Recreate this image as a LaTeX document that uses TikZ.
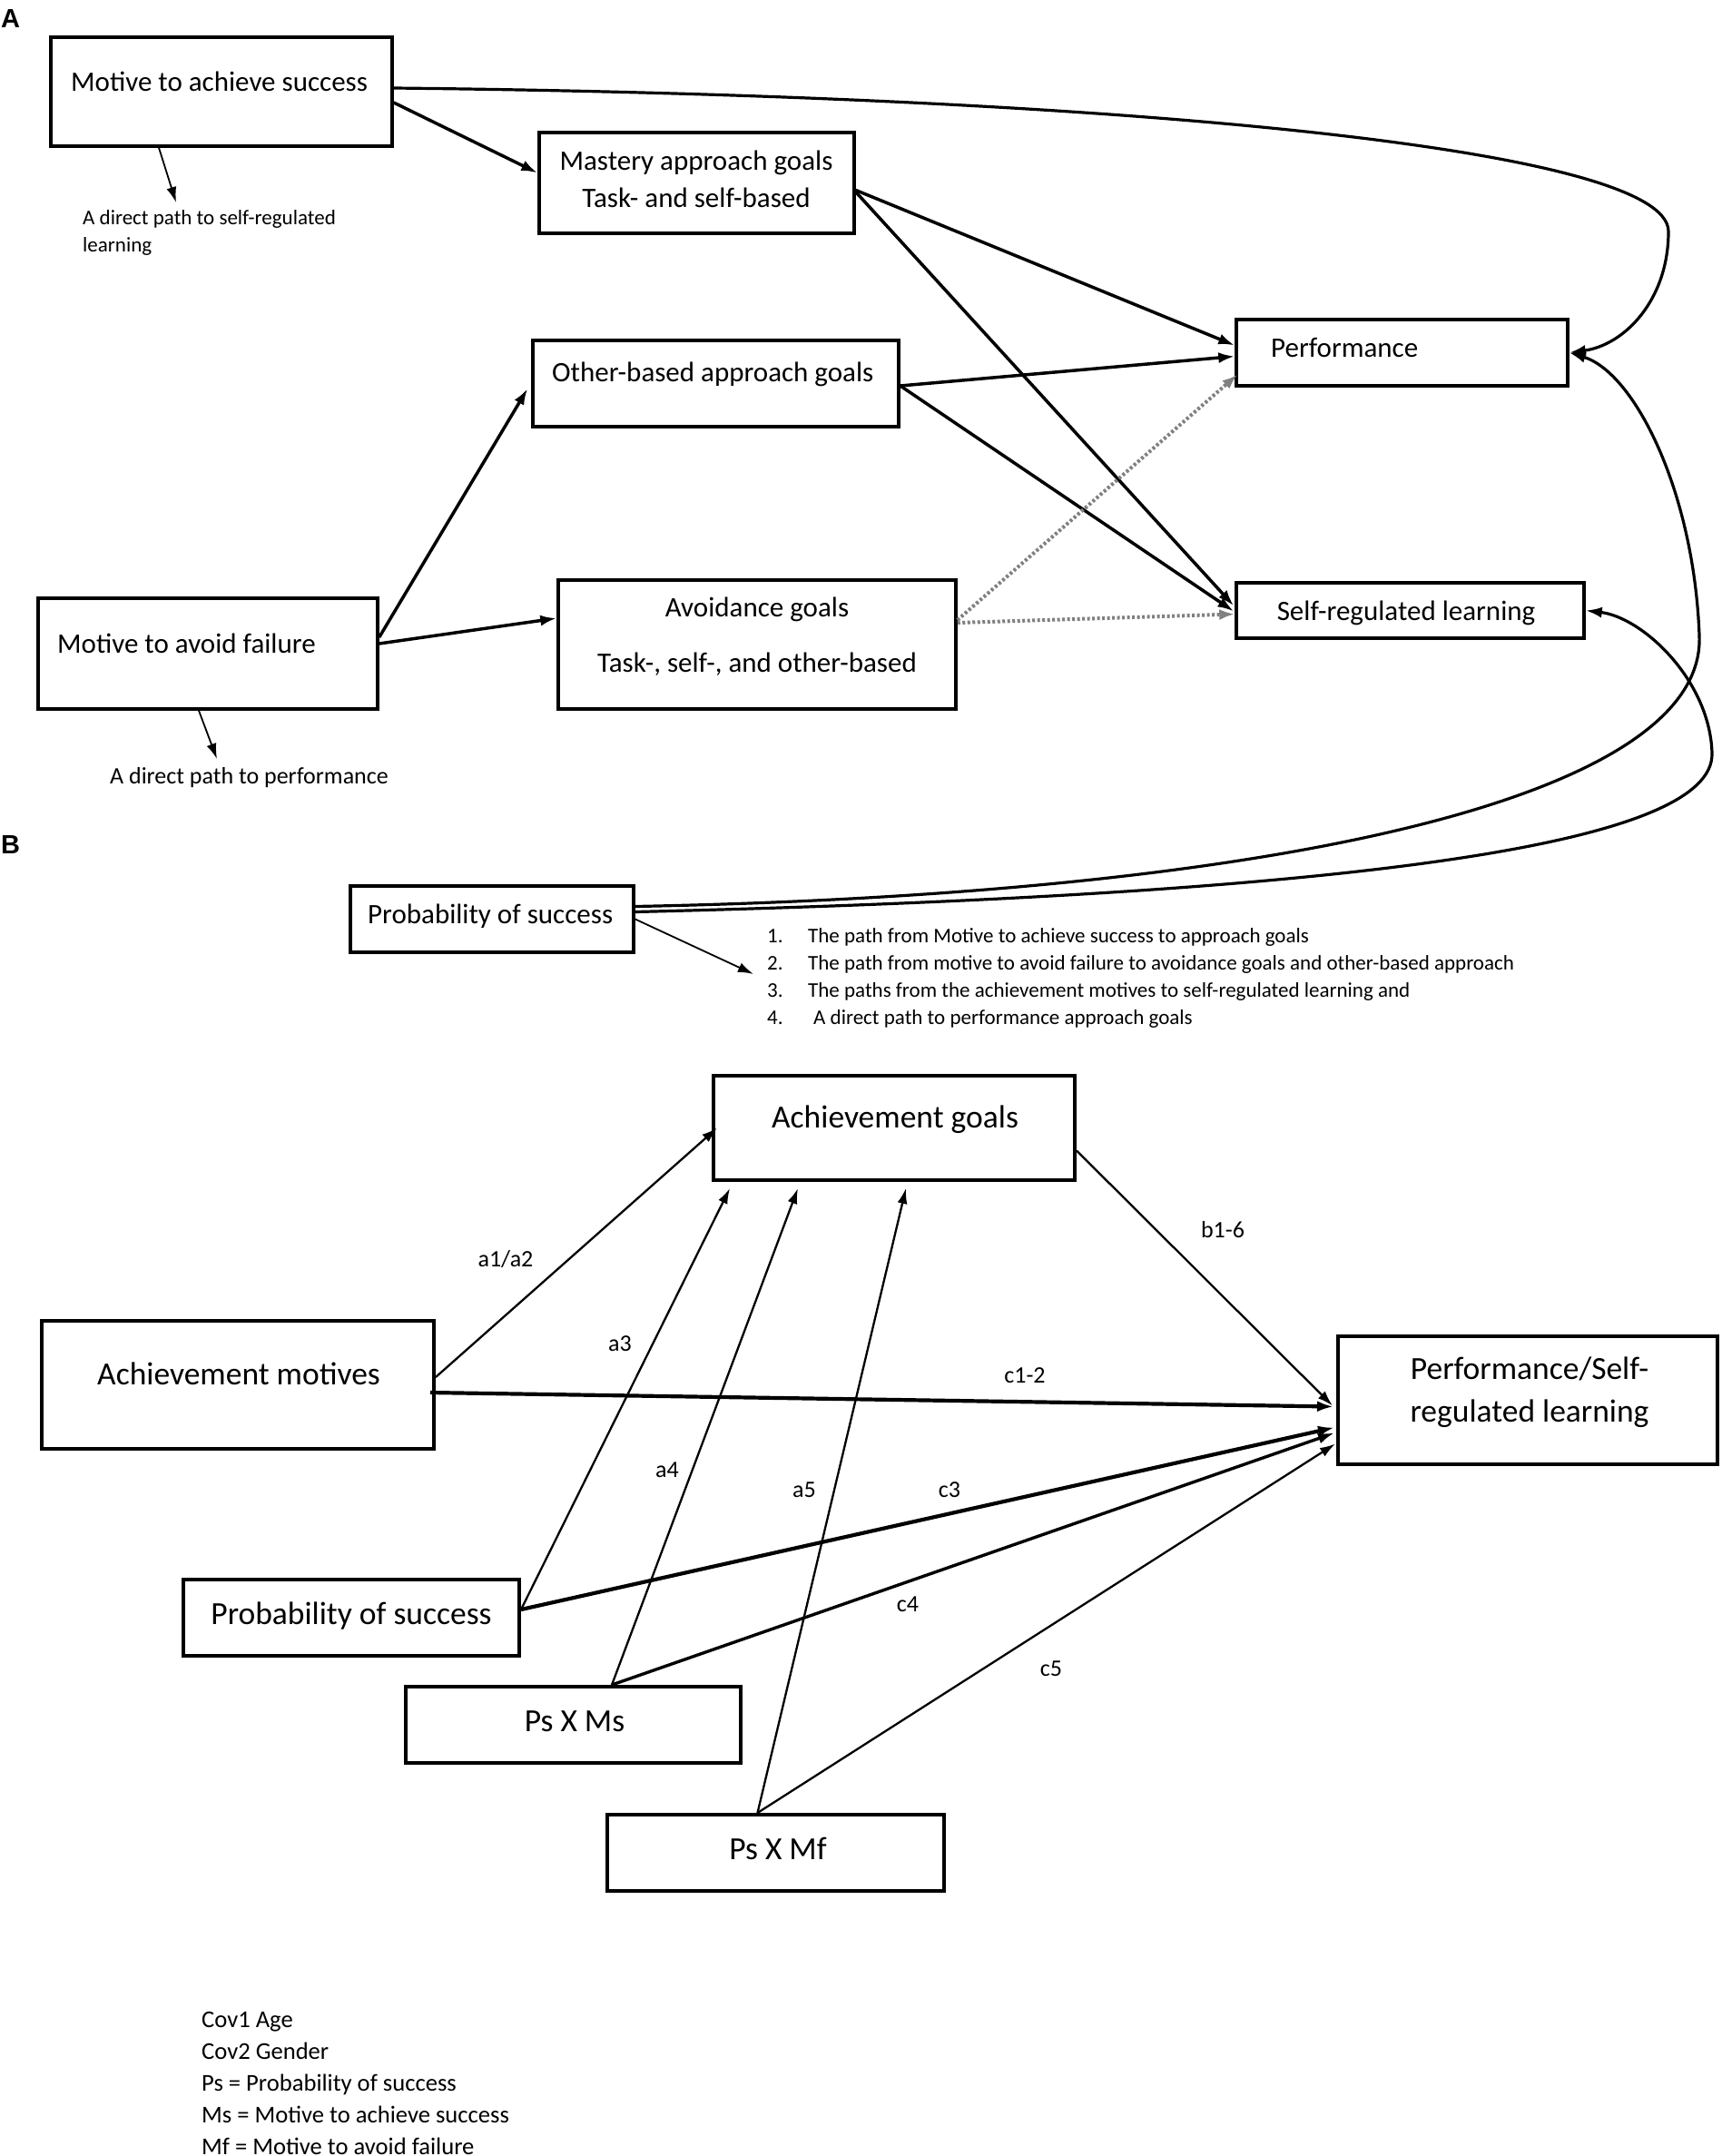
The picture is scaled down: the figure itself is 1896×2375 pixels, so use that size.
\documentclass[tikz,border=0pt]{standalone}
\usepackage{fontspec}
\setmainfont{Carlito}
\newfontfamily\labfont{Liberation Sans}
\usetikzlibrary{arrows.meta,calc}
\begin{document}
\begin{tikzpicture}[x=1pt,y=-1pt,
  box/.style 2 args={draw,line width=3.5pt,minimum width=#1,minimum height=#2,inner sep=0pt},
  boxb/.style 2 args={draw,line width=4pt,minimum width=#1,minimum height=#2,inner sep=0pt},
  ta/.style={font=\fontsize{31}{37}\selectfont,inner sep=0pt},
  tb/.style={font=\fontsize{35.5}{42}\selectfont,inner sep=0pt},
  tsm/.style={font=\fontsize{23}{28}\selectfont,inner sep=0pt,anchor=base west},
  tmd/.style={font=\fontsize{26}{31}\selectfont,inner sep=0pt,anchor=base west},
  lab/.style={font=\fontsize{26}{31}\selectfont,inner sep=0pt},
  leg/.style={font=\fontsize{26.6}{32}\selectfont,inner sep=0pt,anchor=base west},
  sec/.style={font=\labfont\bfseries\fontsize{29}{34}\selectfont,inner sep=0pt,anchor=base west},
  arr/.style={line width=3.5pt,-{Latex[length=18pt,width=12pt]}},
  carr/.style={line width=3.2pt,-{Latex[length=18pt,width=12pt]}},
  thinarr/.style={line width=1.8pt,-{Latex[length=17pt,width=11pt]}},
  dotarr/.style={line width=4pt,draw=black!50,dash pattern=on 3pt off 2.5pt,-{Latex[length=17pt,width=12pt]}},
  barr/.style={line width=2.3pt,-{Latex[length=17pt,width=11pt]}}
]
\useasboundingbox (0,0) rectangle (1896,2375);

% ---------------- Section A ----------------
\node[sec] (la) at (1,30) {A};

\node[box={376pt}{120pt}] (mas) at (244,101) {};
\node[ta,anchor=base west] (tmas) at (78,100) {Motive to achieve success};

\node[box={347pt}{111pt}] (mast) at (767.5,201.5) {};
\node[ta,anchor=base] (tmast1) at (767,187) {Mastery approach goals};
\node[ta,anchor=base] (tmast2) at (767,228) {Task- and self-based};

\node[box={365pt}{73pt}] (perf) at (1544.5,388.5) {};
\node[ta,anchor=base west] (tperf) at (1400,393) {Performance};

\node[box={403pt}{95pt}] (other) at (788.5,422.5) {};
\node[ta,anchor=base west] (tother) at (608,420) {Other-based approach goals};

\node[box={374pt}{122pt}] (maf) at (229,720) {};
\node[ta,anchor=base west] (tmaf) at (63,719) {Motive to avoid failure};

\node[box={438pt}{142pt}] (avoid) at (834,710) {};
\node[ta,anchor=base] (tav1) at (834,679) {Avoidance goals};
\node[ta,anchor=base] (tav2) at (834,740) {Task-, self-, and other-based};

\node[box={383pt}{61pt}] (srl) at (1553.5,672.5) {};
\node[ta,anchor=base] (tsrl) at (1549,683) {Self-regulated learning};

\node[box={312pt}{73pt}] (proba) at (542,1012.5) {};
\node[ta,anchor=base west] (tproba) at (405,1017) {Probability of success};

% annotations
\node[tsm] (ann1a) at (91,247) {A direct path to self-regulated};
\node[tsm] (ann1b) at (91,277) {learning};
\coordinate (ann1tip) at (194,223);
\draw[thinarr] ([xshift=-69pt]mas.south) -- (ann1tip);

\node[tmd] (ann2) at (121,863) {A direct path to performance};
\coordinate (ann2tip) at (239,836);
\draw[thinarr] ([xshift=-10pt]maf.south) -- (ann2tip);

\node[tsm] (n1) at (845,1038) {1.};
\node[tsm] (l1) at (890,1038) {The path from Motive to achieve success to approach goals};
\node[tsm] (n2) at (845,1068) {2.};
\node[tsm] (l2) at (890,1068) {The path from motive to avoid failure to avoidance goals and other-based approach};
\node[tsm] (n3) at (845,1098) {3.};
\node[tsm] (l3) at (890,1098) {The paths from the achievement motives to self-regulated learning and};
\node[tsm] (n4) at (845,1128) {4.};
\node[tsm] (l4) at (896,1128) {A direct path to performance approach goals};
\coordinate (listtip) at (830,1073);
\draw[thinarr] (proba.east) -- (listtip);

% connectors A
\draw[arr] ([yshift=-12pt]mas.east) -- ([yshift=11pt]mast.west);
\draw[carr] ([yshift=4pt]mas.east) .. controls (1200,105) and (1838,160) .. (1838,255)
  .. controls (1838,330) and (1790,380) .. (perf.east);
\draw[arr] ([yshift=-8pt]mast.east) -- ([yshift=8pt]perf.west);
\draw[arr] ([yshift=-10pt]mast.east) -- ([xshift=-1pt,yshift=5pt]srl.west);
\draw[arr] ([yshift=-2.5pt]other.east) -- ([yshift=-4pt]perf.west);
\draw[arr] ([yshift=-2.5pt]other.east) -- ([xshift=-1pt,yshift=-1pt]srl.west);
\draw[dotarr] ([yshift=27pt]avoid.east) -- ([xshift=3pt,yshift=-24pt]perf.west);
\draw[dotarr] ([yshift=24pt]avoid.east) -- ([yshift=-4pt]srl.west);
\draw[arr] ([yshift=18pt]maf.east) -- ([xshift=-4pt,yshift=-5.5pt]other.west);
\draw[arr] ([yshift=11pt]maf.east) -- ([yshift=29pt]avoid.west);
\draw[carr] ([yshift=14pt]proba.east) .. controls (1400,985) and (1880,880) .. (1872,700)
  .. controls (1866,540) and (1800,410) .. (perf.east);
\draw[carr] ([yshift=8pt]proba.east) .. controls (1500,985) and (1888,930) .. (1886,830)
  .. controls (1884,750) and (1810,680) .. (srl.east);

% ---------------- Section B ----------------
\node[sec] (lb) at (1,940) {B};

\node[boxb={398pt}{115pt}] (ag) at (985,1242.5) {};
\node[tb,anchor=base] (tag) at (986,1242) {Achievement goals};
\node[boxb={432pt}{141pt}] (am) at (262,1525.5) {};
\node[tb,anchor=base] (tam) at (263,1525) {Achievement motives};
\node[boxb={418pt}{141pt}] (psrl) at (1683,1542.5) {};
\node[tb,anchor=base] (tpsrl1) at (1685,1519) {Performance/Self-};
\node[tb,anchor=base] (tpsrl2) at (1685,1566) {regulated learning};
\node[boxb={370pt}{84pt}] (probb) at (387,1782) {};
\node[tb,anchor=base] (tprobb) at (387,1789) {Probability of success};
\node[boxb={369pt}{84pt}] (psms) at (631.5,1900) {};
\node[tb,anchor=base] (tpsms) at (633,1907) {Ps X Ms};
\node[boxb={371pt}{84pt}] (psmf) at (854.5,2041) {};
\node[tb,anchor=base] (tpsmf) at (857,2048) {Ps X Mf};

\draw[barr] ([yshift=8.5pt]am.east) -- ([xshift=6pt]ag.west);
\draw[line width=4.2pt,-{Latex[length=18pt,width=12pt]}] ([xshift=-6pt,yshift=-8.5pt]am.east) -- ([xshift=-3pt,yshift=-7pt]psrl.west);
\draw[barr] ([yshift=-25pt]ag.east) -- ([xshift=-4pt,yshift=-6pt]psrl.west);
\draw[barr] ([yshift=9pt]probb.east) -- ([xshift=-181pt,yshift=-7pt]ag.south);
\draw[line width=4.2pt,-{Latex[length=18pt,width=12pt]}] ([yshift=9pt]probb.east) -- ([xshift=-2pt,yshift=-30pt]psrl.west);
\draw[barr] ([xshift=42.5pt]psms.north) -- ([xshift=-106pt,yshift=-7pt]ag.south);
\draw[line width=3.4pt,-{Latex[length=18pt,width=12pt]}] ([xshift=42.5pt]psms.north) -- ([xshift=-2pt,yshift=-36pt]psrl.west);
\draw[barr] ([xshift=-20pt]psmf.north) -- ([xshift=13pt,yshift=-7pt]ag.south);
\draw[barr] ([xshift=-20pt]psmf.north) -- ([xshift=-1pt,yshift=-48pt]psrl.west);

\node[lab] (la12) at (557,1387) {a1/a2};
\node[lab] (lb16) at (1347,1355) {b1-6};
\node[lab] (la3) at (683,1480) {a3};
\node[lab] (lc12) at (1129,1515) {c1-2};
\node[lab] (la4) at (735,1619) {a4};
\node[lab] (la5) at (886,1641) {a5};
\node[lab] (lc3) at (1046,1641) {c3};
\node[lab] (lc4) at (1000,1767) {c4};
\node[lab] (lc5) at (1158,1838) {c5};

\node[leg] (g1) at (222,2233) {Cov1 Age};
\node[leg] (g2) at (222,2268) {Cov2 Gender};
\node[leg] (g3) at (222,2303) {Ps = Probability of success};
\node[leg] (g4) at (222,2338) {Ms = Motive to achieve success};
\node[leg] (g5) at (222,2373) {Mf = Motive to avoid failure};
\end{tikzpicture}
\end{document}
